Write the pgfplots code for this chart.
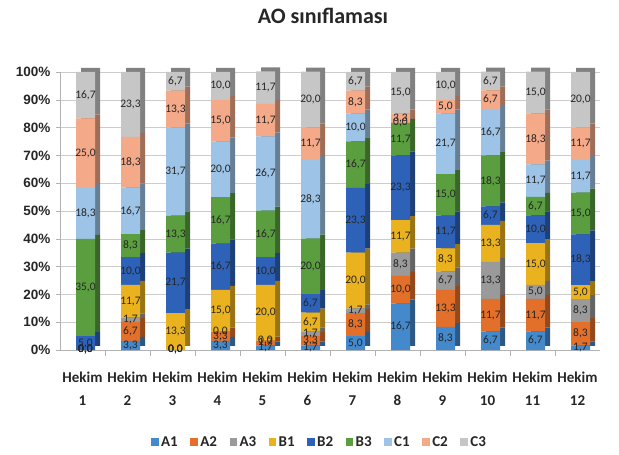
\documentclass[border=0pt]{standalone}
\usepackage{pgfplots}
\pgfplotsset{compat=1.18}
\usepackage{pgfplotstable}
\usepackage{fontspec}
\setmainfont{Carlito}
\newfontfamily\arialfont{Liberation Sans}

\definecolor{cA1}{HTML}{4389CB}
\definecolor{cA2}{HTML}{E2702A}
\definecolor{cA3}{HTML}{9A9A9A}
\definecolor{cB1}{HTML}{EBB220}
\definecolor{cB2}{HTML}{2E62B8}
\definecolor{cB3}{HTML}{5A9E3F}
\definecolor{cC1}{HTML}{9DC3E6}
\definecolor{cC2}{HTML}{F4A989}
\definecolor{cC3}{HTML}{C6C6C6}

\pgfplotstableread{
x A1 A2 A3 B1 B2 B3 C1 C2 C3
1 0.0 0.0 0.0 0.0 5.0 35.0 18.3 25.0 16.7
2 3.3 6.7 1.7 11.7 10.0 8.3 16.7 18.3 23.3
3 0.0 0.0 0.0 13.3 21.7 13.3 31.7 13.3 6.7
4 3.3 3.3 0.0 15.0 16.7 16.7 20.0 15.0 10.0
5 1.7 1.7 0.0 20.0 10.0 16.7 26.7 11.7 11.7
6 1.7 3.3 1.7 6.7 6.7 20.0 28.3 11.7 20.0
7 5.0 8.3 1.7 20.0 23.3 16.7 10.0 8.3 6.7
8 16.7 10.0 8.3 11.7 23.3 11.7 0.0 3.3 15.0
9 8.3 13.3 6.7 8.3 11.7 15.0 21.7 5.0 10.0
10 6.7 11.7 13.3 13.3 6.7 18.3 16.7 6.7 6.7
11 6.7 11.7 5.0 15.0 10.0 6.7 11.7 18.3 15.0
12 1.7 8.3 8.3 5.0 18.3 15.0 11.7 11.7 20.0
}\data

\pgfplotsset{
  base/.style={width=540pt, height=278pt, scale only axis,
    xmin=0.5, xmax=12.5, ymin=0, ymax=100,
    at={(0pt,0pt)}, anchor=south west},
  halfshift/.code={%
    \pgfkeys{/pgf/fpu=true,/pgf/fpu/output format=fixed}%
    \pgfmathsetmacro\myshift{\pgfplotspointmeta*1.39}%
    \pgfkeys{/pgf/fpu=false}%
  },
}

\begin{document}
\begin{tikzpicture}
% background: grid, axes, tick labels, title
\begin{axis}[base,
  axis x line*=bottom, axis y line*=left,
  axis line style={draw=gray!60},
  ymajorgrids, major grid style={draw=gray!40},
  ytick={0,10,...,100},
  yticklabel={\pgfmathprintnumber[assume math mode=true]{\tick}\%},
  yticklabel style={font=\arialfont\bfseries\fontsize{13.5}{16}\selectfont, text=black!85, xshift=-2pt},
  ytick style={draw=gray!60},
  tick align=outside, major tick length=4pt,
  xtick={1,...,12},
  xticklabels={{Hekim\\[5pt]1},{Hekim\\[5pt]2},{Hekim\\[5pt]3},{Hekim\\[5pt]4},{Hekim\\[5pt]5},{Hekim\\[5pt]6},{Hekim\\[5pt]7},{Hekim\\[5pt]8},{Hekim\\[5pt]9},{Hekim\\[5pt]10},{Hekim\\[5pt]11},{Hekim\\[5pt]12}},
  major x tick style={draw=none},
  minor xtick={1.5,2.5,...,11.5},
  minor x tick style={draw=gray!60}, minor tick length=6pt,
  xticklabel style={font=\fontsize{15}{18}\selectfont\bfseries, align=center, anchor=north, yshift=-14pt, text=black!85},
  title={AO sınıflaması},
  title style={at={(0.487,1.18)}, anchor=center, font=\fontsize{22}{26}\selectfont\bfseries, text=black!85},
]
\end{axis}
% side / top faces (pseudo 3D)
\begin{axis}[base, hide axis, ybar stacked, bar width=19pt, bar shift=3pt, xshift=5pt, yshift=4pt]
\addplot[fill=cA1!65!black, draw=none] table[x=x,y=A1]{\data};
\addplot[fill=cA2!65!black, draw=none] table[x=x,y=A2]{\data};
\addplot[fill=cA3!65!black, draw=none] table[x=x,y=A3]{\data};
\addplot[fill=cB1!65!black, draw=none] table[x=x,y=B1]{\data};
\addplot[fill=cB2!65!black, draw=none] table[x=x,y=B2]{\data};
\addplot[fill=cB3!65!black, draw=none] table[x=x,y=B3]{\data};
\addplot[fill=cC1!65!black, draw=none] table[x=x,y=C1]{\data};
\addplot[fill=cC2!65!black, draw=none] table[x=x,y=C2]{\data};
\addplot[fill=cC3!65!black, draw=none] table[x=x,y=C3]{\data};
\end{axis}
% front faces + legend
\begin{axis}[base, hide axis, ybar stacked, bar width=19pt, bar shift=3pt,
  legend image code/.code={\fill[#1] (0pt,-3.75pt) rectangle (7.5pt,3.75pt);},
  legend columns=-1,
  legend style={at={(0.481,-0.331)}, anchor=center, draw=none, fill=none,
    font=\fontsize{15}{18}\selectfont\bfseries, text=black!85,
    /tikz/every even column/.append style={column sep=10pt},
    nodes={inner xsep=2.5pt}},
]
\addplot[fill=cA1, draw=none] table[x=x,y=A1]{\data};
\addplot[fill=cA2, draw=none] table[x=x,y=A2]{\data};
\addplot[fill=cA3, draw=none] table[x=x,y=A3]{\data};
\addplot[fill=cB1, draw=none] table[x=x,y=B1]{\data};
\addplot[fill=cB2, draw=none] table[x=x,y=B2]{\data};
\addplot[fill=cB3, draw=none] table[x=x,y=B3]{\data};
\addplot[fill=cC1, draw=none] table[x=x,y=C1]{\data};
\addplot[fill=cC2, draw=none] table[x=x,y=C2]{\data};
\addplot[fill=cC3, draw=none] table[x=x,y=C3]{\data};
\legend{A1,A2,A3,B1,B2,B3,C1,C2,C3}
\end{axis}
% data labels on top (stacked invisible lines, so zero values get labels too)
\begin{axis}[base, hide axis, clip=false, stack plots=y, xshift=3pt,
  point meta=explicit,
  nodes near coords={\pgfmathprintnumber[fixed,fixed zerofill,precision=1,use comma,assume math mode=true]{\pgfplotspointmeta}},
  every node near coord/.append style={/pgfplots/halfshift, yshift=-\myshift pt, anchor=center, inner sep=0pt, font=\fontsize{11.5}{13}\selectfont, text=black!85},
]
\addplot[draw=none, mark=none] table[x=x,y=A1,meta=A1]{\data};
\addplot[draw=none, mark=none] table[x=x,y=A2,meta=A2]{\data};
\addplot[draw=none, mark=none] table[x=x,y=A3,meta=A3]{\data};
\addplot[draw=none, mark=none] table[x=x,y=B1,meta=B1]{\data};
\addplot[draw=none, mark=none] table[x=x,y=B2,meta=B2]{\data};
\addplot[draw=none, mark=none] table[x=x,y=B3,meta=B3]{\data};
\addplot[draw=none, mark=none] table[x=x,y=C1,meta=C1]{\data};
\addplot[draw=none, mark=none] table[x=x,y=C2,meta=C2]{\data};
\addplot[draw=none, mark=none] table[x=x,y=C3,meta=C3]{\data};
\end{axis}
\pgfresetboundingbox
\path[use as bounding box] (-60pt,-105pt) rectangle (559pt,350pt);
\end{tikzpicture}
\end{document}
